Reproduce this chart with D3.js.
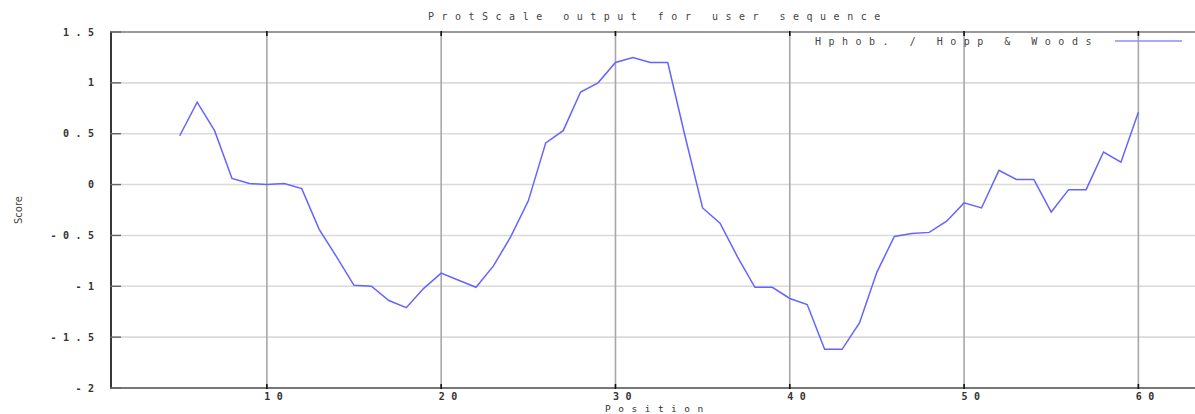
<!DOCTYPE html>
<html>
<head>
<meta charset="utf-8">
<script src="https://cdn.jsdelivr.net/npm/d3@7"></script>
<style>
  html, body { margin: 0; padding: 0; background: #fff; overflow: hidden; }
  .tick-label { font-family: 'DejaVu Sans Mono', monospace; font-size: 10px; fill: #333; }
</style>
</head>
<body>
<div id="chart"></div>
<script>
// data
const positions = [5, 6, 7, 8, 9, 10, 11, 12, 13, 14, 15, 16, 17, 18, 19, 20,
  21, 22, 23, 24, 25, 26, 27, 28, 29, 30, 31, 32, 33, 34, 35, 36, 37, 38, 39, 40,
  41, 42, 43, 44, 45, 46, 47, 48, 49, 50, 51, 52, 53, 54, 55, 56, 57, 58, 59, 60];
const scores = [0.48, 0.81, 0.53, 0.06, 0.01, 0.0, 0.01, -0.04, -0.44, -0.71, -0.99, -1.0, -1.14, -1.21, -1.02, -0.87,
  -0.94, -1.01, -0.8, -0.51, -0.16, 0.41, 0.53, 0.91, 1.0, 1.2, 1.25, 1.2, 1.2, 0.47, -0.23, -0.38, -0.71, -1.01, -1.01, -1.12,
  -1.18, -1.62, -1.62, -1.36, -0.86, -0.51, -0.48, -0.47, -0.36, -0.18, -0.23, 0.14, 0.05, 0.05, -0.27, -0.05, -0.05, 0.32, 0.22, 0.71];
const xTicks = [10, 20, 30, 40, 50, 60];
const yTicks = [-2, -1.5, -1, -0.5, 0, 0.5, 1, 1.5];
const chartTitle = 'ProtScale output for user sequence';
const seriesName = 'Hphob. / Hopp & Woods';

const W = 1195, H = 414;
const plotLeft = 110, plotTop = 32, plotBottom = 388;

const svg = d3.select('#chart').append('svg')
  .attr('width', W)
  .attr('height', H);

const x = d3.scaleLinear().domain([1, 64]).range([plotLeft, plotLeft + 63 * 17.43]);
const y = d3.scaleLinear().domain([-2, 1.5]).range([plotBottom, plotTop]);

// horizontal grid
svg.append('g')
  .selectAll('line')
  .data(yTicks.filter(d => d > -2 && d < 1.5))
  .enter()
  .append('line')
    .attr('x1', plotLeft)
    .attr('x2', W)
    .attr('y1', d => y(d))
    .attr('y2', d => y(d))
    .style('stroke', '#dadada')
    .style('stroke-width', 1.6);

// vertical grid
svg.append('g')
  .selectAll('line')
  .data(xTicks)
  .enter()
  .append('line')
    .attr('x1', d => x(d))
    .attr('x2', d => x(d))
    .attr('y1', plotTop)
    .attr('y2', plotBottom)
    .style('stroke', '#a8a8a8')
    .style('stroke-width', 1.6);

// border
svg.append('line')
  .attr('x1', plotLeft).attr('x2', W)
  .attr('y1', plotTop).attr('y2', plotTop)
  .style('stroke', '#999').style('stroke-width', 2);
svg.append('line')
  .attr('x1', plotLeft).attr('x2', W)
  .attr('y1', plotBottom).attr('y2', plotBottom)
  .style('stroke', '#777').style('stroke-width', 2);
svg.append('line')
  .attr('x1', plotLeft + 1).attr('x2', plotLeft + 1)
  .attr('y1', plotTop).attr('y2', plotBottom)
  .style('stroke', '#222').style('stroke-width', 1.8);

// y ticks + labels
const yAxis = svg.append('g');
yAxis.selectAll('line')
  .data(yTicks)
  .enter()
  .append('line')
    .attr('x1', plotLeft)
    .attr('x2', plotLeft + 11)
    .attr('y1', d => y(d))
    .attr('y2', d => y(d))
    .style('stroke', '#666')
    .style('stroke-width', 1.4);

yAxis.selectAll('text')
  .data(yTicks)
  .enter()
  .append('text')
    .attr('class', 'tick-label')
    .attr('x', 94)
    .attr('y', d => y(d) + 3.5)
    .attr('text-anchor', 'end')
    .style('font-weight', 'bold')
    .style('letter-spacing', '6.5px')
    .attr('dx', 6.5)
    .text(d => String(d));

// x ticks + labels
const xAxis = svg.append('g');
xAxis.selectAll('line.top')
  .data(xTicks)
  .enter()
  .append('line')
    .attr('x1', d => x(d))
    .attr('x2', d => x(d))
    .attr('y1', plotTop - 1)
    .attr('y2', plotTop + 4)
    .style('stroke', '#111')
    .style('stroke-width', 1.6);
xAxis.selectAll('line.bot')
  .data(xTicks)
  .enter()
  .append('line')
    .attr('x1', d => x(d))
    .attr('x2', d => x(d))
    .attr('y1', plotBottom - 4)
    .attr('y2', plotBottom + 1)
    .style('stroke', '#111')
    .style('stroke-width', 1.6);

xAxis.selectAll('text')
  .data(xTicks)
  .enter()
  .append('text')
    .attr('class', 'tick-label')
    .attr('x', d => x(d) + 7)
    .attr('y', 399.5)
    .attr('text-anchor', 'middle')
    .style('font-weight', 'bold')
    .style('letter-spacing', '6.5px')
    .attr('dx', 3)
    .text(d => d);

// series line
const line = d3.line()
  .x((d, i) => x(positions[i]))
  .y(d => y(d));

svg.append('path')
  .datum(scores)
  .attr('d', line)
  .style('fill', 'none')
  .style('stroke', '#6464ff')
  .style('stroke-width', 1.5)
  .style('stroke-linejoin', 'miter');

// title
svg.append('text')
  .attr('x', 428)
  .attr('y', 20)
  .style('font-family', "'DejaVu Sans Mono', monospace")
  .style('font-size', '10px')
  .style('letter-spacing', '7.5px')
  .style('fill', '#444')
  .text(chartTitle);

// legend
svg.append('text')
  .attr('x', 815)
  .attr('y', 45)
  .style('font-family', "'DejaVu Sans Mono', monospace")
  .style('font-size', '10px')
  .style('letter-spacing', '7.5px')
  .style('fill', '#444')
  .text(seriesName);

svg.append('line')
  .attr('x1', 1115).attr('x2', 1182)
  .attr('y1', 41).attr('y2', 41)
  .style('stroke', '#8c8cff')
  .style('stroke-width', 1.3);

// axis titles
svg.append('text')
  .attr('transform', 'translate(22, 210) rotate(-90)')
  .attr('text-anchor', 'middle')
  .style('font-family', "'DejaVu Sans', sans-serif")
  .style('font-size', '10px')
  .style('fill', '#444')
  .text('Score');

svg.append('text')
  .attr('x', 605)
  .attr('y', 411.5)
  .style('font-family', "'DejaVu Sans Mono', monospace")
  .style('font-size', '9.5px')
  .style('letter-spacing', '7.5px')
  .style('fill', '#333')
  .text('Position');
</script>
</body>
</html>
